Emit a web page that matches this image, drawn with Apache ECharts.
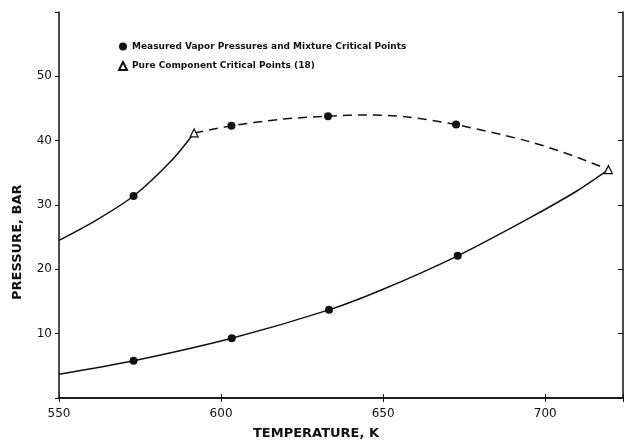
<!DOCTYPE html>
<html>
<head>
<meta charset="utf-8">
<script src="https://cdn.jsdelivr.net/npm/echarts@6/dist/echarts.min.js"></script>
<style>
html,body{margin:0;padding:0;background:#fff;}
#c{width:626px;height:441px;}
</style>
</head>
<body>
<div id="c"></div>
<script>
// Data (temperature K, pressure bar)
const vaporCurveLower = [[550,3.7],[573,5.8],[603.3,9.3],[633.3,13.7],[650,16.9],[673,22.1],[694.5,27.8],[709.5,32.1],[719.5,35.5]];
const vaporCurveUpper = [[550,24.5],[561,27.5],[573,31.4],[584.5,36.8],[591.7,41.2]];
const criticalLocus = [[591.7,41.2],[603.2,42.3],[618,43.3],[633,43.8],[645,44.0],[657,43.7],[672.5,42.5],[695.5,39.8],[708.8,37.6],[719.5,35.5]];
const measuredPoints = [[573,5.8],[603.3,9.3],[633.3,13.7],[673,22.1],[573,31.4],[603.2,42.3],[633,43.8],[672.5,42.5]];
const pureCriticalPoints = [[591.7,41.2],[719.5,35.5]];
const xTicks = [550,600,650,700];
const yTicks = [10,20,30,40,50];

const font = 'DejaVu Sans';
const chart = echarts.init(document.getElementById('c'), null, {renderer:'canvas'});
const yAxisBase = {type:'value', min:0, max:60, interval:10, splitLine:{show:false}};
const xAxisBase = {type:'value', min:550, max:724, interval:50, splitLine:{show:false}};
chart.setOption({
  animation:false,
  backgroundColor:'#fff',
  grid:{left:59, top:12, right:0, bottom:43, show:false},
  legend:{
    orient:'vertical', left:113, top:37, itemWidth:8, itemHeight:8, itemGap:10,
    data:['Measured Vapor Pressures and Mixture Critical Points','Pure Component Critical Points (18)'],
    textStyle:{fontFamily:font, fontSize:9, fontWeight:'bold', color:'#111'},
    selectedMode:false
  },
  xAxis:[
    Object.assign({}, xAxisBase, {position:'bottom',
      axisLine:{show:true, lineStyle:{color:'#111', width:1.5}},
      axisTick:{show:true, inside:true, length:4, lineStyle:{color:'#111'}},
      axisLabel:{show:true, margin:10, fontFamily:font, fontSize:12, color:'#111',
        formatter:v=> xTicks.includes(v)? String(v):''}}),
    Object.assign({}, xAxisBase, {position:'top',
      axisLine:{show:true, lineStyle:{color:'#111', width:1.5}},
      axisTick:{show:true, inside:true, length:4, lineStyle:{color:'#111'}},
      axisLabel:{show:false}})
  ],
  yAxis:[
    Object.assign({}, yAxisBase, {position:'left',
      axisLine:{show:true, lineStyle:{color:'#111', width:1.5}},
      axisTick:{show:true, inside:false, length:4, lineStyle:{color:'#111'}},
      axisLabel:{show:true, margin:7, fontFamily:font, fontSize:12, color:'#111',
        formatter:v=> yTicks.includes(v)? String(v):''}}),
    Object.assign({}, yAxisBase, {position:'right',
      axisLine:{show:true, lineStyle:{color:'#111', width:1.5}},
      axisTick:{show:true, inside:true, length:5, lineStyle:{color:'#111'}},
      axisLabel:{show:false}})
  ],
  graphic:[
    {type:'text', left:253, top:427, style:{text:'TEMPERATURE, K', font:'bold 13px "DejaVu Sans"', fill:'#111'}},
    {type:'text', x:11, y:300, rotation:Math.PI/2, style:{text:'PRESSURE, BAR', font:'bold 13px "DejaVu Sans"', fill:'#111', textAlign:'left', textVerticalAlign:'top'}}
  ],
  series:[
    {type:'line', data:vaporCurveLower, smooth:0.3, symbol:'none', lineStyle:{color:'#111', width:1.5}, z:2},
    {type:'line', data:vaporCurveUpper, smooth:0.3, symbol:'none', lineStyle:{color:'#111', width:1.5}, z:2},
    {type:'line', data:criticalLocus, smooth:0.3, symbol:'none', lineStyle:{color:'#111', width:1.5, type:[9,6]}, z:2},
    {name:'Measured Vapor Pressures and Mixture Critical Points', type:'scatter', data:measuredPoints, symbol:'circle', symbolSize:8, itemStyle:{color:'#111', opacity:1}, z:3},
    {name:'Pure Component Critical Points (18)', type:'scatter', data:pureCriticalPoints, symbol:'triangle', symbolSize:8, itemStyle:{color:'#fff', borderColor:'#111', borderWidth:1.2, opacity:1}, z:3}
  ]
});
</script>
</body>
</html>
